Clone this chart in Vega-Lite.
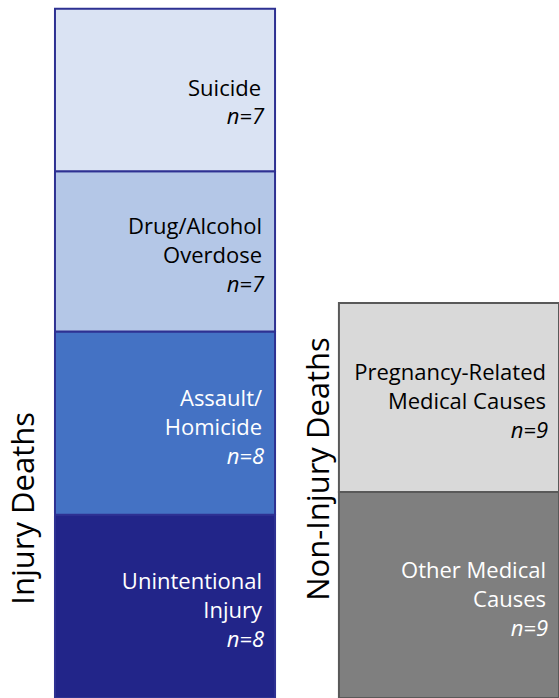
{
  "$schema": "https://vega.github.io/schema/vega-lite/v6.json",
  "width": 559,
  "height": 698,
  "autosize": {"type": "none"},
  "padding": 0,
  "background": "white",
  "config": {"view": {"stroke": null}, "font": "Open Sans"},
  "data": {
    "values": [
      {"group": "Injury Deaths", "cause": "Unintentional Injury", "label": "Unintentional\nInjury", "n": "n=8", "value": 8, "order": 1},
      {"group": "Injury Deaths", "cause": "Assault/Homicide", "label": "Assault/\nHomicide", "n": "n=8", "value": 8, "order": 2},
      {"group": "Injury Deaths", "cause": "Drug/Alcohol Overdose", "label": "Drug/Alcohol\nOverdose", "n": "n=7", "value": 7, "order": 3},
      {"group": "Injury Deaths", "cause": "Suicide", "label": "Suicide", "n": "n=7", "value": 7.1, "order": 4},
      {"group": "Non-Injury Deaths", "cause": "Other Medical Causes", "label": "Other Medical\nCauses", "n": "n=9", "value": 9, "order": 1},
      {"group": "Non-Injury Deaths", "cause": "Pregnancy-Related Medical Causes", "label": "Pregnancy-Related\nMedical Causes", "n": "n=9", "value": 8.25, "order": 2}
    ]
  },
  "transform": [
    {"stack": "value", "groupby": ["group"], "sort": [{"field": "order"}], "as": ["y0", "y1"]},
    {"calculate": "(datum.y0 + datum.y1) / 2", "as": "mid"}
  ],
  "encoding": {
    "x": {
      "field": "group",
      "type": "nominal",
      "scale": {"domain": ["Injury Deaths", "Non-Injury Deaths"], "paddingInner": 0.225, "paddingOuter": 0.0968, "align": 1},
      "axis": null
    }
  },
  "layer": [
    {
      "mark": {"type": "bar", "strokeWidth": 2},
      "encoding": {
        "y": {"field": "y0", "type": "quantitative", "scale": {"domain": [0, 30.48], "nice": false, "zero": true}, "axis": null},
        "y2": {"field": "y1"},
        "fill": {
          "field": "cause",
          "type": "nominal",
          "scale": {
            "domain": ["Unintentional Injury", "Assault/Homicide", "Drug/Alcohol Overdose", "Suicide", "Other Medical Causes", "Pregnancy-Related Medical Causes"],
            "range": ["#222589", "#4472C4", "#B4C7E7", "#DAE3F3", "#7F7F7F", "#D9D9D9"]
          },
          "legend": null
        },
        "stroke": {
          "field": "group",
          "type": "nominal",
          "scale": {"domain": ["Injury Deaths", "Non-Injury Deaths"], "range": ["#2E3192", "#595959"]},
          "legend": null
        }
      }
    },
    {
      "transform": [{"filter": "indexof(datum.label, '\\n') >= 0"}],
      "mark": {"type": "text", "align": "right", "baseline": "middle", "fontSize": 22, "lineHeight": 29, "lineBreak": "\n", "dx": -13, "dy": -24},
      "encoding": {
        "x": {"field": "group", "type": "nominal", "bandPosition": 1},
        "y": {"field": "mid", "type": "quantitative"},
        "text": {"field": "label"},
        "color": {
          "condition": {"test": "indexof(['Assault/Homicide','Unintentional Injury','Other Medical Causes'], datum.cause) >= 0", "value": "white"},
          "value": "black"
        }
      }
    },
    {
      "transform": [{"filter": "indexof(datum.label, '\\n') >= 0"}],
      "mark": {"type": "text", "align": "right", "baseline": "middle", "fontSize": 22, "fontStyle": "italic", "dx": -11, "dy": 34},
      "encoding": {
        "x": {"field": "group", "type": "nominal", "bandPosition": 1},
        "y": {"field": "mid", "type": "quantitative"},
        "text": {"field": "n"},
        "color": {
          "condition": {"test": "indexof(['Assault/Homicide','Unintentional Injury','Other Medical Causes'], datum.cause) >= 0", "value": "white"},
          "value": "black"
        }
      }
    },
    {
      "transform": [{"filter": "indexof(datum.label, '\\n') < 0"}],
      "mark": {"type": "text", "align": "right", "baseline": "middle", "fontSize": 22, "dx": -14, "dy": -1},
      "encoding": {
        "x": {"field": "group", "type": "nominal", "bandPosition": 1},
        "y": {"field": "mid", "type": "quantitative"},
        "text": {"field": "label"},
        "color": {"value": "black"}
      }
    },
    {
      "transform": [{"filter": "indexof(datum.label, '\\n') < 0"}],
      "mark": {"type": "text", "align": "right", "baseline": "middle", "fontSize": 22, "fontStyle": "italic", "dx": -11, "dy": 27},
      "encoding": {
        "x": {"field": "group", "type": "nominal", "bandPosition": 1},
        "y": {"field": "mid", "type": "quantitative"},
        "text": {"field": "n"},
        "color": {"value": "black"}
      }
    },
    {
      "transform": [{"filter": "datum.group === 'Injury Deaths' && datum.order === 1"}],
      "mark": {"type": "text", "angle": 270, "align": "center", "baseline": "alphabetic", "fontSize": 31, "dy": -21},
      "encoding": {
        "x": {"field": "group", "type": "nominal", "bandPosition": 0},
        "y": {"datum": 8.28, "type": "quantitative"},
        "text": {"field": "group"}
      }
    },
    {
      "transform": [{"filter": "datum.group === 'Non-Injury Deaths' && datum.order === 1"}],
      "mark": {"type": "text", "angle": 270, "align": "center", "baseline": "alphabetic", "fontSize": 31, "dy": -10},
      "encoding": {
        "x": {"field": "group", "type": "nominal", "bandPosition": 0},
        "y": {"datum": 10.0, "type": "quantitative"},
        "text": {"field": "group"}
      }
    }
  ]
}
